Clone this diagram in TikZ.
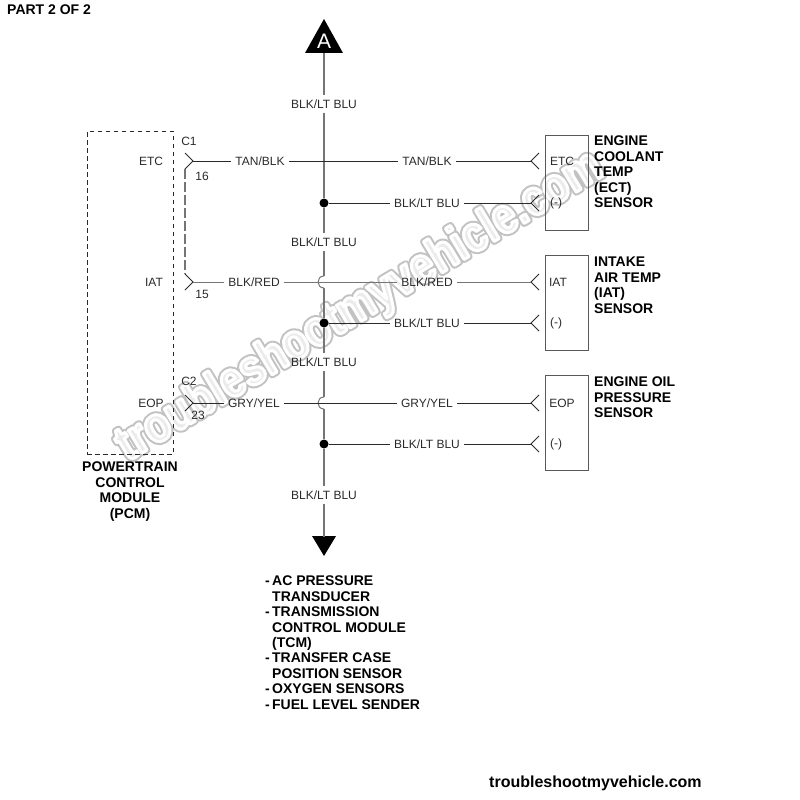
\documentclass[tikz,border=0pt]{standalone}
\usepackage{fontspec}
\setmainfont{Liberation Sans}
\newfontfamily\brandfont{Liberation Sans}[FakeStretch=0.84]
\usetikzlibrary{calc,positioning}
\definecolor{inkgray}{HTML}{2A2A2A}
\definecolor{maingray}{HTML}{757575}
\newcommand{\rimtext}[2]{\special{pdf:code q 1 j 2 Tr #1 w #2}troubleshootmyvehicle.com\special{pdf:code Q}}
\newcommand{\dashitem}{\makebox[7pt][l]{-}}
\newcommand{\indentitem}{\hspace*{7pt}}
\tikzset{%
	wire/.style      = {draw=inkgray, line width=0.8pt},
	graywire/.style  = {draw=maingray, line width=1pt},
	mainwire/.style  = {draw=maingray, line width=1.3pt},
	linkwire/.style  = {draw=maingray, line width=1.1pt, dash pattern=on 10pt off 3pt},
	wirelabel/.style = {text=inkgray, font=\fontsize{12}{14}\selectfont, inner sep=4pt},
	pinlabel/.style  = {text=inkgray, font=\fontsize{12}{14}\selectfont, inner sep=0pt},
	plain/.style     = {text=inkgray, font=\fontsize{12}{14}\selectfont, inner sep=0pt},
	heading/.style   = {text=black, font=\fontsize{14}{15.4}\selectfont\bfseries, inner sep=0pt, align=left, anchor=north west},
	sensor/.style    = {draw=black!65, line width=0.9pt, inner sep=0pt, anchor=north west, minimum width=43pt, minimum height=95pt},
	splice/.style    = {circle, fill=black, inner sep=0pt, minimum size=9pt},
	waypoint/.style  = {coordinate},
	brandmark/.style = {font=\fontsize{50}{54}\brandfont\bfseries, rotate=31, inner sep=0pt},
}
\begin{document}
\begin{tikzpicture}[x=1pt,y=-1pt]
	\useasboundingbox (0,0) rectangle (800,800);
	% watermark
	\node[brandmark] (rim) at (360,307) {\rimtext{7}{0.76 G 0.76 g}};
	\node[brandmark] (brand) at (360,307) {\rimtext{3}{1 G 0.92 g}};
	% header and footer
	\node[heading] (part) at (7,5) {PART 2 OF 2};
	\node[heading, font=\fontsize{16}{18}\selectfont\bfseries] (site) at (489,776) {troubleshootmyvehicle.com};
	% pcm
	\node[draw=inkgray, line width=0.8pt, dash pattern=on 4.5pt off 3.5pt, inner sep=0pt, minimum width=86pt, minimum height=323pt, anchor=north west] (pcm) at (87,131) {};
	\node[heading, align=center, anchor=north] (pcmname) at (130,462) {POWERTRAIN\\CONTROL\\MODULE\\(PCM)};
	\node[plain] (etc) at (151,161) {ETC};
	\node[plain] (iat) at (154,282) {IAT};
	\node[plain] (eop) at (151,403) {EOP};
	% connectors
	\node[waypoint] (c16) at (193,161) {};
	\node[waypoint] (c15) at (193,282) {};
	\node[waypoint] (c23) at (193,403) {};
	\node[plain] (c1) at (189,141) {C1};
	\node[plain] (c2) at (189,381) {C2};
	\node[pinlabel] (p16) at (202,176) {16};
	\node[pinlabel] (p15) at (202,294) {15};
	\node[pinlabel] (p23) at (198,415) {23};
	\draw[wire] ($(c16)+(-8,-8)$) -- (c16) -- ($(c16)+(-8,8)$);
	\draw[wire] ($(c15)+(-8,-8)$) -- (c15) -- ($(c15)+(-8,8)$);
	\draw[wire] ($(c23)+(-8,-8)$) -- (c23) -- ($(c23)+(-8,8)$);
	\draw[linkwire] ($(c16)+(-8,8)$) -- ($(c15)+(-8,-8)$);
	% sensors
	\node[sensor] (ect) at (545,135) {};
	\node[sensor] (ait) at (545,255) {};
	\node[sensor] (oil) at (545,375) {};
	\node[plain] (ectsig) at (562,161) {ETC};
	\node[plain] (ectgnd) at (556,203) {(-)};
	\node[plain] (aitsig) at (558,282) {IAT};
	\node[plain] (aitgnd) at (556,323) {(-)};
	\node[plain] (oilsig) at (562,403) {EOP};
	\node[plain] (oilgnd) at (556,444) {(-)};
	\node[heading] (ectname) at (594,136) {ENGINE\\COOLANT\\TEMP\\(ECT)\\SENSOR};
	\node[heading] (aitname) at (594,257) {INTAKE\\AIR TEMP\\(IAT)\\SENSOR};
	\node[heading] (oilname) at (594,377) {ENGINE OIL\\PRESSURE\\SENSOR};
	% sensor side tips
	\node[waypoint] (t1) at (531,161) {};
	\node[waypoint] (t2) at (531,203) {};
	\node[waypoint] (t3) at (531,282) {};
	\node[waypoint] (t4) at (531,323) {};
	\node[waypoint] (t5) at (531,403) {};
	\node[waypoint] (t6) at (531,444) {};
	\draw[wire] ($(t1)+(8,-8)$) -- (t1) -- ($(t1)+(8,8)$);
	\draw[wire] ($(t2)+(8,-8)$) -- (t2) -- ($(t2)+(8,8)$);
	\draw[wire] ($(t3)+(8,-8)$) -- (t3) -- ($(t3)+(8,8)$);
	\draw[wire] ($(t4)+(8,-8)$) -- (t4) -- ($(t4)+(8,8)$);
	\draw[wire] ($(t5)+(8,-8)$) -- (t5) -- ($(t5)+(8,8)$);
	\draw[wire] ($(t6)+(8,-8)$) -- (t6) -- ($(t6)+(8,8)$);
	% main wire
	\node[waypoint] (topend) at (324,53) {};
	\node[waypoint] (botend) at (324,537) {};
	\fill (324,19) -- (343,53) -- (305,53) -- cycle;
	\fill (312,536) -- (336,536) -- (324,556) -- cycle;
	\node[text=white, font=\fontsize{21}{23}\selectfont, inner sep=0pt] (a) at (324,41) {A};
	\node[wirelabel] (m1) at (324,104) {BLK/LT BLU};
	\node[wirelabel] (m2) at (324,242) {BLK/LT BLU};
	\node[wirelabel] (m3) at (324,362) {BLK/LT BLU};
	\node[wirelabel] (m4) at (324,495) {BLK/LT BLU};
	\node[splice] (d1) at (324,203) {};
	\node[splice] (d2) at (324,323) {};
	\node[splice] (d3) at (324,444) {};
	\node[waypoint] (j1a) at (324,276) {};
	\node[waypoint] (j1b) at (324,288) {};
	\node[waypoint] (j2a) at (324,397) {};
	\node[waypoint] (j2b) at (324,409) {};
	\draw[mainwire] (topend) -- (m1) -- (d1) -- (m2) -- (j1a);
	\draw[graywire] (j1a) to[out=180,in=180,looseness=1.7] (j1b);
	\draw[mainwire] (j1b) -- (d2) -- (m3) -- (j2a);
	\draw[graywire] (j2a) to[out=180,in=180,looseness=1.7] (j2b);
	\draw[mainwire] (j2b) -- (d3) -- (m4) -- (botend);
	% wires
	\node[wirelabel] (w1l) at (260,161) {TAN/BLK};
	\node[wirelabel] (w1r) at (427,161) {TAN/BLK};
	\node[wirelabel] (w2r) at (427,203) {BLK/LT BLU};
	\node[wirelabel] (w3l) at (254,282) {BLK/RED};
	\node[wirelabel] (w3r) at (427,282) {BLK/RED};
	\node[wirelabel] (w4r) at (427,323) {BLK/LT BLU};
	\node[wirelabel] (w5l) at (254,403) {GRY/YEL};
	\node[wirelabel] (w5r) at (427,403) {GRY/YEL};
	\node[wirelabel] (w6r) at (427,444) {BLK/LT BLU};
	\draw[wire] (c16) -- (w1l) -- (w1r) -- (t1);
	\draw[wire] (d1) -- (w2r) -- (t2);
	\draw[graywire] (c15) -- (w3l) -- (w3r) -- (t3);
	\draw[wire] (d2) -- (w4r) -- (t4);
	\draw[wire] (c23) -- (w5l) -- (w5r) -- (t5);
	\draw[wire] (d3) -- (w6r) -- (t6);
	% downstream list
	\node[heading] (list) at (265,576) {\dashitem AC PRESSURE\\\indentitem TRANSDUCER\\\dashitem TRANSMISSION\\\indentitem CONTROL MODULE\\\indentitem (TCM)\\\dashitem TRANSFER CASE\\\indentitem POSITION SENSOR\\\dashitem OXYGEN SENSORS\\\dashitem FUEL LEVEL SENDER};
\end{tikzpicture}
\end{document}
